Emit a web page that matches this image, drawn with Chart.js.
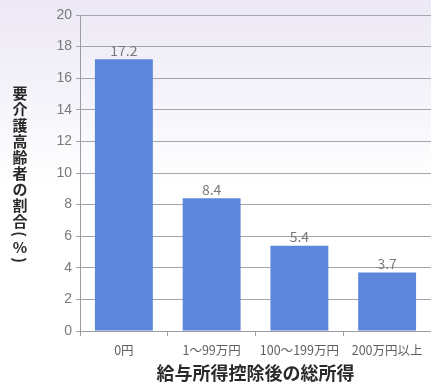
<!DOCTYPE html>
<html>
<head>
<meta charset="utf-8">
<script src="https://cdn.jsdelivr.net/npm/chart.js@4.4.0/dist/chart.umd.min.js"></script>
<style>
  html, body { margin: 0; padding: 0; background: #fff; }
  #wrap { width: 431px; height: 386px; position: relative; }
</style>
</head>
<body>
<div id="wrap"><canvas id="myChart" width="431" height="386"></canvas></div>
<script>
const categories = ['0円', '1～99万円', '100～199万円', '200万円以上'];
const shares = [17.2, 8.4, 5.4, 3.7];
const yTicks = [0, 2, 4, 6, 8, 10, 12, 14, 16, 18, 20];
const yTitle = '要介護高齢者の割合(%)';
const xTitle = '給与所得控除後の総所得';

const jpFont = "'Noto Sans CJK JP', 'Noto Sans', sans-serif";

// soft lavender wash behind everything
const backdrop = {
  id: 'backdrop',
  beforeDraw(chart) {
    const ctx = chart.ctx;
    const g = ctx.createLinearGradient(0, 0, 0, 190);
    g.addColorStop(0, '#ece8f5');
    g.addColorStop(1, '#ffffff');
    ctx.save();
    ctx.fillStyle = g;
    ctx.fillRect(0, 0, chart.width, chart.height);
    ctx.restore();
  }
};

// value above each bar
const valueLabels = {
  id: 'valueLabels',
  afterDatasetsDraw(chart) {
    const ctx = chart.ctx;
    const meta = chart.getDatasetMeta(0);
    ctx.save();
    ctx.font = '14px ' + jpFont;
    ctx.fillStyle = '#7a7a7a';
    ctx.textAlign = 'center';
    ctx.textBaseline = 'bottom';
    meta.data.forEach((bar, i) => {
      ctx.fillText(shares[i].toFixed(1), bar.x, bar.y - 2);
    });
    ctx.restore();
  }
};

// stacked upright y title, brackets turned sideways like vertical type
const verticalTitle = {
  id: 'verticalTitle',
  afterDraw(chart) {
    const ctx = chart.ctx;
    ctx.save();
    ctx.font = 'bold 15px ' + jpFont;
    ctx.fillStyle = '#2a2a2a';
    ctx.textAlign = 'center';
    ctx.textBaseline = 'middle';
    const x = 20;
    let y = 93;
    for (const ch of yTitle) {
      if (ch === '(' || ch === ')') {
        y -= 3;
        ctx.save();
        ctx.translate(x, y);
        ctx.rotate(Math.PI / 2);
        ctx.fillText(ch, 0, 0);
        ctx.restore();
        y += 13;
      } else {
        ctx.fillText(ch, x, y);
        y += 16;
      }
    }
    ctx.restore();
  }
};

new Chart(document.getElementById('myChart').getContext('2d'), {
  type: 'bar',
  data: {
    labels: categories,
    datasets: [{
      data: shares,
      backgroundColor: '#5b86db',
      borderWidth: 0,
      barPercentage: 0.66,
      categoryPercentage: 1.0
    }]
  },
  options: {
    responsive: false,
    animation: false,
    layout: { padding: { top: 15, right: 0, left: 0, bottom: 0 } },
    plugins: { legend: { display: false }, tooltip: { enabled: false } },
    scales: {
      x: {
        grid: { display: true, drawOnChartArea: false, drawTicks: true, tickLength: 5, color: '#9c9ca4', offset: true },
        border: { display: true, color: '#9c9ca4' },
        ticks: { color: '#606060', font: { size: 12.5, family: jpFont }, padding: 7, maxRotation: 0 },
        title: { display: true, text: xTitle, color: '#2a2a2a', font: { size: 18, weight: 'bold', family: jpFont }, padding: { top: 2, bottom: 2 } },
        afterFit(scale) { scale.height = 55; }
      },
      y: {
        min: 0,
        max: 20,
        afterBuildTicks(scale) { scale.ticks = yTicks.map(v => ({ value: v })); },
        grid: { color: '#a4a4ac', tickLength: 4 },
        border: { display: true, color: '#9c9ca4' },
        ticks: { color: '#7a7a7a', font: { size: 14, family: "'Liberation Sans', sans-serif" }, padding: 4 },
        afterFit(scale) { scale.width = 80; }
      }
    }
  },
  plugins: [backdrop, valueLabels, verticalTitle]
});
</script>
</body>
</html>
